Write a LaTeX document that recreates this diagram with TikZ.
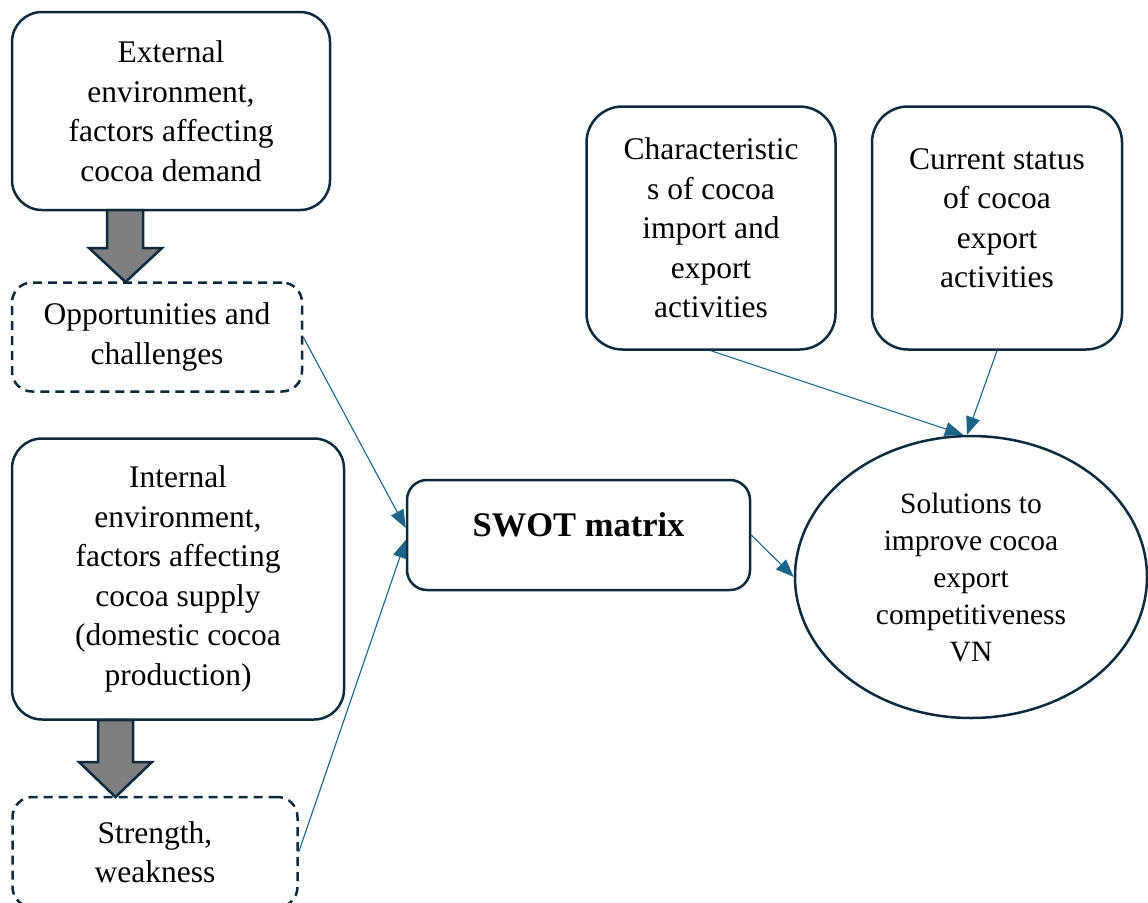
\documentclass[tikz,border=0pt]{standalone}
\usepackage{fontspec}
\setmainfont{Liberation Serif}
\usetikzlibrary{arrows.meta}
\usetikzlibrary{shapes.geometric}
\definecolor{boxline}{HTML}{0E2A3B}
\definecolor{linkblue}{HTML}{1B6387}
\definecolor{blockgray}{HTML}{7F7F7F}
\begin{document}
\begin{tikzpicture}[x=1pt,y=-1pt,
        box/.style={draw=boxline,line width=2.5pt,rounded corners=30pt,align=center,
            inner sep=0pt,font=\fontsize{31.5}{39.5}\selectfont},
        dash box/.style={box,rounded corners=20pt,dash pattern=on 9pt off 6pt},
        fat arrow/.style={draw=boxline,fill=blockgray,line width=2.5pt,line join=miter},
        link/.style={draw=linkblue,line width=1.1pt,-{Triangle[length=18pt,width=14pt]}},
    ]
    \useasboundingbox (0,0) rectangle (1148,902);

    % left column
    \node[box,minimum width=318pt,minimum height=198pt] (ext) at (171,111)
        {External\\environment,\\factors affecting\\cocoa demand};
    \node[dash box,minimum width=290pt,minimum height=109pt] (opp) at (157,337)
        {Opportunities and\\challenges};
    \node[box,minimum width=332pt,minimum height=281pt] (int) at (178,579)
        {Internal\\environment,\\factors affecting\\cocoa supply\\(domestic cocoa\\production)};
    \node[dash box,minimum width=285pt,minimum height=110pt] (str) at (155,852)
        {Strength,\\weakness};

    \draw[fat arrow] (107,210) -- (143,210) -- (143,248) -- (162,248) -- (125.5,282)
        -- (89,248) -- (107,248) -- cycle;
    \draw[fat arrow] (98,720) -- (133,720) -- (133,762) -- (152,762) -- (115.5,797)
        -- (79,762) -- (98,762) -- cycle;

    % middle and right
    \node[box,rounded corners=20pt,minimum width=343pt,minimum height=110pt,
        font=\fontsize{34.5}{40}\selectfont\bfseries,text depth=20pt] (swot) at (578.5,535) {SWOT matrix};
    \node[box,rounded corners=36pt,minimum width=249pt,minimum height=243pt] (char) at (711,228)
        {Characteristic\\s of cocoa\\import and\\export\\activities};
    \node[box,rounded corners=36pt,minimum width=250pt,minimum height=243pt,text depth=20pt] (cur) at (997,228)
        {Current status\\of cocoa\\export\\activities};
    \node[draw=boxline,line width=2.5pt,ellipse,inner sep=0pt,minimum width=352pt,minimum height=282pt,
        align=center,font=\fontsize{29.5}{37}\selectfont] (sol) at (971,577)
        {Solutions to\\improve cocoa\\export\\competitiveness\\VN};

    \draw[link] (opp.east) -- ([yshift=7pt]swot.west);
    \draw[link] (str.east) -- ([yshift=-5pt]swot.west);
    \draw[link] (swot.east) -- (sol.west);
    \draw[link] (char.south) -- ([xshift=-8pt]sol.north);
    \draw[link] (cur.south) -- ([xshift=-4pt]sol.north);
\end{tikzpicture}
\end{document}
